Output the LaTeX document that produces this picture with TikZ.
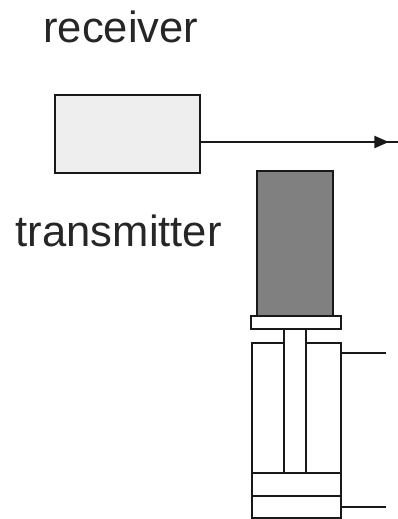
\documentclass[tikz,border=0pt]{standalone}
\usepackage{fontspec}
\setmainfont{Liberation Sans}
\usepackage{xcolor}
\usetikzlibrary{positioning,arrows.meta}
\definecolor{shell}{HTML}{EEEEEE}
\definecolor{magnet}{HTML}{808080}
\begin{document}
\begin{tikzpicture}[
  part/.style={draw=black!90, line width=1.5pt, inner sep=0pt, outer sep=0pt, fill=white},
  wire/.style={draw=black!90, line width=1.5pt},
  caption/.style={font=\fontsize{31}{36}\selectfont, text=black!85}]
\useasboundingbox (0,0) rectangle (9.95,12.975);
% labels
\node[caption] (rxlabel) at (3.02,12.3) {receiver};
\node[caption] (txlabel) at (2.97,7.2) {transmitter};
% receiver box and its output
\node[part, fill=shell, minimum width=3.625cm, minimum height=1.95cm] (receiver) at (3.19,9.625) {};
\coordinate (sigtip) at (9.72,9.425);
\coordinate (sigend) at (9.95,9.425);
\draw[wire, -{Triangle[length=0.36cm, width=0.3cm]}] (receiver.east |- sigtip) -- (sigtip);
\draw[wire, line width=2pt] ([xshift=-0.15cm]sigtip) -- (sigend);
% transmitter
\node[part, fill=magnet, minimum width=1.9cm, minimum height=3.625cm] (magnetbox) at (7.375,6.8875) {};
\node[part, minimum width=2.225cm, minimum height=3.25cm] (cylinder) at (7.41,2.775) {};
\node[part, minimum width=0.55cm, minimum height=3.6cm] (rod) at (7.375,2.95) {};
\node[part, minimum width=2.25cm, minimum height=0.325cm] (plate) at (7.4,4.9125) {};
\node[part, minimum width=2.225cm, minimum height=0.575cm] (upperblock) at (7.41,0.8625) {};
\node[part, minimum width=2.225cm, minimum height=0.55cm] (lowerblock) at (7.41,0.3) {};
% wires
\coordinate (topend) at (9.65,4.15);
\draw[wire] (cylinder.east |- topend) -- (topend);
\draw[wire] (lowerblock.east) -- (lowerblock.east -| topend);
\end{tikzpicture}
\end{document}
